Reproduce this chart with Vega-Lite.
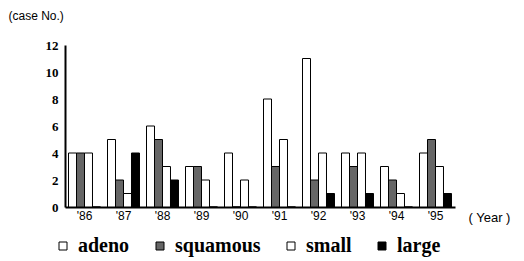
{
  "$schema": "https://vega.github.io/schema/vega-lite/v6.json",
  "autosize": "none",
  "width": 390,
  "height": 162,
  "padding": {"left": 65, "top": 45, "right": 69, "bottom": 54},
  "background": "white",
  "config": {"view": {"stroke": null}},
  "data": {"values": [
    {"year": "'86", "type": "adeno", "n": 4}, {"year": "'86", "type": "squamous", "n": 4}, {"year": "'86", "type": "small", "n": 4}, {"year": "'86", "type": "large", "n": 0},
    {"year": "'87", "type": "adeno", "n": 5}, {"year": "'87", "type": "squamous", "n": 2}, {"year": "'87", "type": "small", "n": 1}, {"year": "'87", "type": "large", "n": 4},
    {"year": "'88", "type": "adeno", "n": 6}, {"year": "'88", "type": "squamous", "n": 5}, {"year": "'88", "type": "small", "n": 3}, {"year": "'88", "type": "large", "n": 2},
    {"year": "'89", "type": "adeno", "n": 3}, {"year": "'89", "type": "squamous", "n": 3}, {"year": "'89", "type": "small", "n": 2}, {"year": "'89", "type": "large", "n": 0},
    {"year": "'90", "type": "adeno", "n": 4}, {"year": "'90", "type": "squamous", "n": 0}, {"year": "'90", "type": "small", "n": 2}, {"year": "'90", "type": "large", "n": 0},
    {"year": "'91", "type": "adeno", "n": 8}, {"year": "'91", "type": "squamous", "n": 3}, {"year": "'91", "type": "small", "n": 5}, {"year": "'91", "type": "large", "n": 0},
    {"year": "'92", "type": "adeno", "n": 11}, {"year": "'92", "type": "squamous", "n": 2}, {"year": "'92", "type": "small", "n": 4}, {"year": "'92", "type": "large", "n": 1},
    {"year": "'93", "type": "adeno", "n": 4}, {"year": "'93", "type": "squamous", "n": 3}, {"year": "'93", "type": "small", "n": 4}, {"year": "'93", "type": "large", "n": 1},
    {"year": "'94", "type": "adeno", "n": 3}, {"year": "'94", "type": "squamous", "n": 2}, {"year": "'94", "type": "small", "n": 1}, {"year": "'94", "type": "large", "n": 0},
    {"year": "'95", "type": "adeno", "n": 4}, {"year": "'95", "type": "squamous", "n": 5}, {"year": "'95", "type": "small", "n": 3}, {"year": "'95", "type": "large", "n": 1}
  ]},
  "mark": {"type": "bar", "stroke": "black", "strokeWidth": 1},
  "encoding": {
    "x": {
      "field": "year", "type": "nominal", "sort": null,
      "scale": {"paddingInner": 0.18, "paddingOuter": 0.09},
      "axis": {
        "title": "( Year )", "titleFont": "Liberation Sans", "titleFontWeight": "normal", "titleFontSize": 13,
        "titleAngle": 0, "titleAlign": "left", "titleBaseline": "middle", "titleX": 403, "titleY": 10,
        "labelAngle": 0, "labelFont": "Liberation Sans", "labelFontSize": 12, "labelColor": "black", "labelPadding": 3,
        "ticks": false, "domainColor": "black", "domainWidth": 2
      }
    },
    "xOffset": {"field": "type", "type": "nominal", "sort": ["adeno", "squamous", "small", "large"]},
    "y": {
      "field": "n", "type": "quantitative",
      "scale": {"domain": [0, 12], "nice": false},
      "axis": {
        "values": [0, 2, 4, 6, 8, 10, 12], "grid": false, "ticks": false,
        "domainColor": "black", "domainWidth": 2,
        "labelFont": "Liberation Serif", "labelFontWeight": "bold", "labelFontSize": 13, "labelColor": "black", "labelPadding": 7,
        "title": "(case No.)", "titleAngle": 0, "titleAlign": "left", "titleBaseline": "middle",
        "titleX": -57, "titleY": -30, "titleFont": "Liberation Sans", "titleFontWeight": "normal", "titleFontSize": 12
      }
    },
    "color": {
      "field": "type", "type": "nominal",
      "scale": {"domain": ["adeno", "squamous", "small", "large"], "range": ["white", "#666666", "white", "black"]},
      "legend": {
        "title": null, "orient": "none", "direction": "horizontal", "columns": 4,
        "legendX": -12, "legendY": 191,
        "symbolType": "square", "symbolSize": 64, "symbolStrokeColor": "black", "symbolStrokeWidth": 1,
        "labelFont": "Liberation Serif", "labelFontWeight": "bold", "labelFontSize": 20, "labelColor": "black",
        "labelOffset": 5, "columnPadding": 20
      }
    }
  }
}
